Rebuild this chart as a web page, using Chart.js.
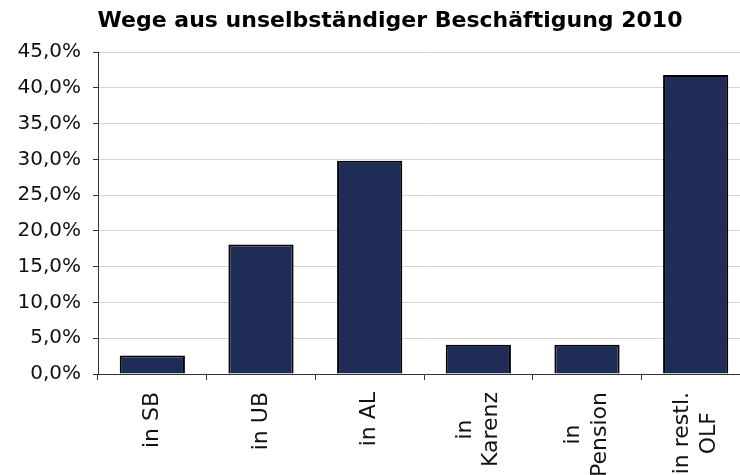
<!DOCTYPE html>
<html>
<head>
<meta charset="utf-8">
<script src="https://cdn.jsdelivr.net/npm/chart.js@4.4.1/dist/chart.umd.min.js"></script>
<style>
html,body{margin:0;padding:0;overflow:hidden;background:#fff;}
#wrap{width:750px;height:475px;}
</style>
</head>
<body>
<div id="wrap"><canvas id="c" width="750" height="475"></canvas></div>
<script>
const chartTitle = 'Wege aus unselbständiger Beschäftigung 2010';
const categories = [['in SB'], ['in UB'], ['in AL'], ['in', 'Karenz'], ['in', 'Pension'], ['in restl.', 'OLF']];
const shares = [2.6, 18.1, 29.8, 4.1, 4.1, 41.8];
const yMin = 0, yMax = 45, yStep = 5;

const FONT = '"DejaVu Sans", Verdana, sans-serif';

const titlePlugin = {
  id: 'customTitle',
  afterDraw(chart) {
    const ctx = chart.ctx;
    ctx.save();
    ctx.font = 'bold 22px ' + FONT;
    ctx.fillStyle = '#000';
    ctx.textAlign = 'center';
    ctx.textBaseline = 'middle';
    ctx.fillText(chartTitle, 390, 21);
    ctx.restore();
  }
};

const xLabelPlugin = {
  id: 'xLabels',
  afterDraw(chart) {
    const ctx = chart.ctx;
    const xs = chart.scales.x;
    const lineH = 26.5;
    const startY = chart.chartArea.bottom + 18;
    ctx.save();
    ctx.font = '22px ' + FONT;
    ctx.fillStyle = '#111';
    ctx.textAlign = 'center';
    ctx.textBaseline = 'middle';
    categories.forEach((lines, i) => {
      const px = xs.getPixelForValue(i);
      const maxW = Math.max(...lines.map(l => ctx.measureText(l).width));
      const cy = startY + maxW / 2;
      lines.forEach((l, j) => {
        const lx = px + (j - (lines.length - 1) / 2) * lineH;
        ctx.save();
        ctx.translate(lx, cy);
        ctx.rotate(-Math.PI / 2);
        ctx.fillText(l, 0, 0);
        ctx.restore();
      });
    });
    ctx.restore();
  }
};

new Chart(document.getElementById('c'), {
  type: 'bar',
  data: {
    labels: categories,
    datasets: [{
      data: shares,
      backgroundColor: '#1f2c57',
      borderColor: '#000',
      borderWidth: 2,
      borderSkipped: 'start',
      barPercentage: 0.6,
      categoryPercentage: 1.0
    }]
  },
  options: {
    responsive: false,
    devicePixelRatio: 1,
    animation: false,
    layout: { padding: { top: 52, left: 0, right: 0, bottom: 0 } },
    plugins: { legend: { display: false }, title: { display: false }, tooltip: { enabled: false } },
    scales: {
      x: {
        offset: true,
        grid: { display: true, offset: true, drawOnChartArea: false, drawTicks: true, tickLength: 6, tickColor: '#333', color: '#333' },
        border: { display: true, color: '#333', width: 1 },
        ticks: { display: false },
        afterFit(scale) { scale.height = 101; }
      },
      y: {
        min: yMin, max: yMax,
        grid: { color: '#d4d4d4', lineWidth: 1, drawTicks: true, tickLength: 5, tickColor: '#333' },
        border: { display: true, color: '#333', width: 1 },
        ticks: {
          stepSize: yStep,
          padding: 12,
          color: '#111',
          font: { family: FONT, size: 20 },
          callback: v => v.toFixed(1).replace('.', ',') + '%'
        },
        afterFit(scale) { scale.width = 98; }
      }
    }
  },
  plugins: [titlePlugin, xLabelPlugin]
});
</script>
</body>
</html>
